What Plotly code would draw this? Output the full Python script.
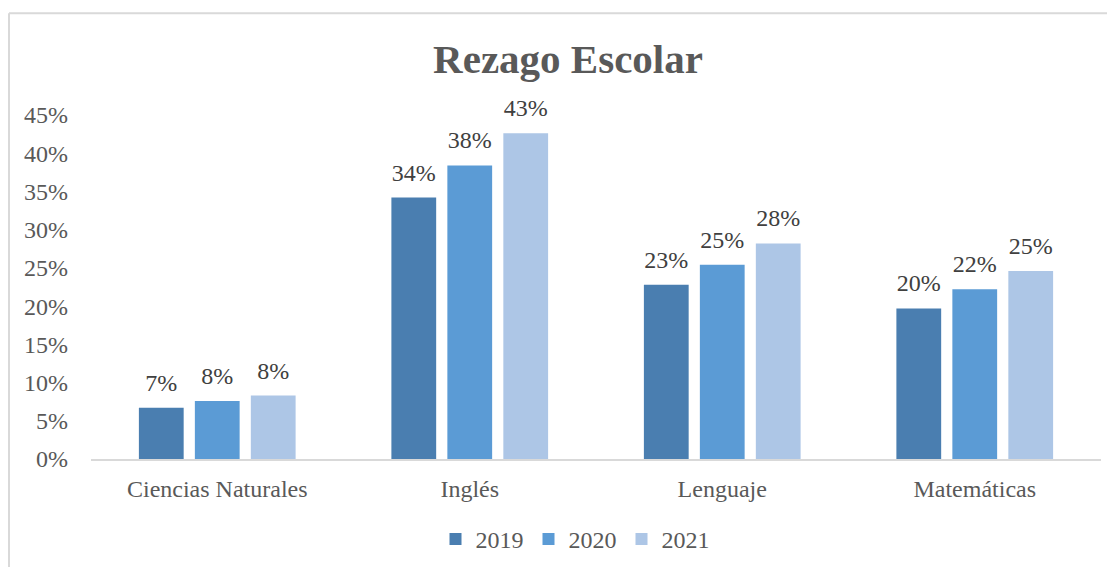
import plotly.graph_objects as go

categories = ["Ciencias Naturales", "Inglés", "Lenguaje", "Matemáticas"]
years = ["2019", "2020", "2021"]
values_2019 = [0.067, 0.342, 0.228, 0.197]
values_2020 = [0.076, 0.384, 0.254, 0.222]
values_2021 = [0.083, 0.426, 0.282, 0.246]
colors = ["#4a7eb0", "#5b9bd5", "#adc6e6"]
y_ticks = [0, 0.05, 0.10, 0.15, 0.20, 0.25, 0.30, 0.35, 0.40, 0.45]

FONT = "Liberation Serif, Times New Roman, serif"

series = list(zip(years, [values_2019, values_2020, values_2021], colors))

fig = go.Figure()
for name, vals, col in series:
    fig.add_trace(go.Bar(
        name=name, x=categories, y=vals,
        marker=dict(color=col, line=dict(width=0)),
        hoverinfo="x+y+name",
    ))
# data labels, grouped alongside the bars
for name, vals, col in series:
    fig.add_trace(go.Scatter(
        name=name, x=categories, y=vals, mode="markers+text",
        marker=dict(size=16, opacity=0, color=col),
        texttemplate="%{y:.0%}", textposition="top center",
        textfont=dict(family=FONT, size=24, color="#404040"),
        showlegend=False, hoverinfo="skip", cliponaxis=False,
    ))

# page body has an 8px margin; work in window pixels and subtract it
OFF = 8
WW, WH = 1115, 567
W, H = WW - OFF, WH - OFF
L, R, T, B = 91 - OFF, 14, 115 - OFF, WH - 459.5
pw = W - L - R
ph = H - T - B

def px_x(p):
    return (p - OFF - L) / pw

def px_y(p):
    return (H - B - (p - OFF)) / ph

fig.update_layout(
    width=W, height=H,
    margin=dict(l=L, r=R, t=T, b=B, autoexpand=False),
    paper_bgcolor="white", plot_bgcolor="white",
    barmode="group", bargap=0.335, bargroupgap=0.2,
    scattermode="group", scattergap=0.335,
    title=dict(text="<b>Rezago Escolar</b>", x=px_x(568), xref="paper", xanchor="center",
               y=1 - (59 - OFF) / H, yanchor="middle",
               font=dict(family=FONT, size=41, color="#595959")),
    font=dict(family=FONT, size=24, color="#595959"),
    showlegend=True,
    legend=dict(orientation="h", x=px_x(575), xanchor="center", y=px_y(540), yanchor="middle",
                font=dict(family=FONT, size=24, color="#595959"), traceorder="normal"),
    xaxis=dict(showgrid=False, showline=True, linecolor="#d9d9d9", linewidth=2,
               ticks="", ticklabelstandoff=7, automargin=False,
               tickfont=dict(family=FONT, size=24, color="#595959")),
    yaxis=dict(range=[0, 0.45], tickvals=y_ticks, tickformat=".0%", showgrid=False,
               showline=False, zeroline=False, ticks="", ticklabelstandoff=22, automargin=False,
               tickfont=dict(family=FONT, size=24, color="#595959")),
    shapes=[
        dict(type="line", xref="paper", yref="paper", x0=px_x(9), x1=px_x(9),
             y0=px_y(WH + 5), y1=px_y(13), line=dict(color="#d9d9d9", width=2)),
        dict(type="line", xref="paper", yref="paper", x0=px_x(9), x1=px_x(WW + 5),
             y0=px_y(13), y1=px_y(13), line=dict(color="#d9d9d9", width=2)),
    ],
)

fig.write_html("out.html")
